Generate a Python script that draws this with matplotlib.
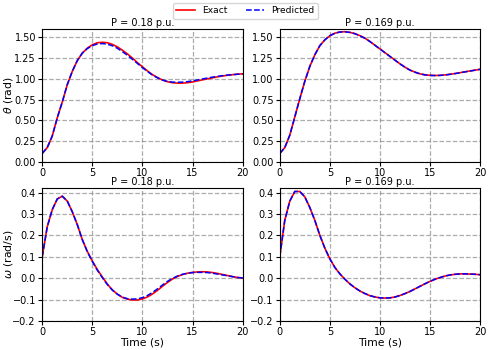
import numpy as np
import matplotlib
matplotlib.use('Agg')
from matplotlib import pyplot as plt

# time axis (s)
t = np.arange(0, 20.5, 0.5)

# rotor angle, P = 0.18 p.u.
theta_exact_a = [0.10, 0.17, 0.31, 0.53, 0.72, 0.93, 1.09, 1.22, 1.31, 1.37, 1.41,
                 1.435, 1.44, 1.435, 1.415, 1.385, 1.345, 1.30, 1.25, 1.195, 1.145,
                 1.095, 1.05, 1.015, 0.985, 0.965, 0.953, 0.948, 0.948, 0.953, 0.962,
                 0.975, 0.988, 1.00, 1.012, 1.024, 1.034, 1.043, 1.05, 1.056, 1.06]
theta_pred_a = [0.10, 0.17, 0.31, 0.53, 0.72, 0.93, 1.09, 1.22, 1.31, 1.365, 1.40,
                1.42, 1.425, 1.418, 1.398, 1.368, 1.328, 1.283, 1.235, 1.185, 1.135,
                1.088, 1.045, 1.012, 0.985, 0.968, 0.96, 0.958, 0.96, 0.966, 0.975,
                0.986, 0.998, 1.01, 1.02, 1.03, 1.038, 1.045, 1.05, 1.055, 1.058]

# rotor angle, P = 0.169 p.u.
theta_exact_b = [0.10, 0.17, 0.32, 0.54, 0.76, 0.97, 1.15, 1.29, 1.40, 1.47, 1.52,
                 1.55, 1.565, 1.568, 1.56, 1.545, 1.52, 1.49, 1.45, 1.405, 1.36,
                 1.315, 1.27, 1.225, 1.18, 1.14, 1.105, 1.08, 1.06, 1.048, 1.042,
                 1.04, 1.042, 1.047, 1.055, 1.064, 1.074, 1.085, 1.095, 1.105, 1.115]
theta_pred_b = [0.10, 0.17, 0.32, 0.54, 0.76, 0.97, 1.15, 1.29, 1.40, 1.47, 1.52,
                1.55, 1.564, 1.567, 1.559, 1.544, 1.519, 1.489, 1.449, 1.404, 1.359,
                1.314, 1.269, 1.224, 1.179, 1.139, 1.104, 1.079, 1.059, 1.047, 1.041,
                1.039, 1.041, 1.046, 1.054, 1.063, 1.073, 1.084, 1.094, 1.104, 1.114]

# speed deviation, P = 0.18 p.u.
omega_exact_a = [0.10, 0.24, 0.32, 0.37, 0.383, 0.36, 0.31, 0.25, 0.18, 0.125, 0.08,
                 0.04, 0.005, -0.028, -0.055, -0.075, -0.09, -0.098, -0.102, -0.102, -0.097,
                 -0.088, -0.074, -0.057, -0.038, -0.02, -0.004, 0.008, 0.017, 0.023, 0.027,
                 0.029, 0.03, 0.029, 0.026, 0.022, 0.017, 0.012, 0.007, 0.003, 0.0]
omega_pred_a = [0.10, 0.24, 0.32, 0.37, 0.383, 0.36, 0.31, 0.25, 0.18, 0.123, 0.078,
                0.037, 0.002, -0.03, -0.056, -0.075, -0.089, -0.096, -0.098, -0.097, -0.091,
                -0.081, -0.067, -0.05, -0.032, -0.015, -0.001, 0.01, 0.018, 0.023, 0.026,
                0.027, 0.027, 0.026, 0.023, 0.019, 0.015, 0.011, 0.007, 0.003, 0.001]

# speed deviation, P = 0.169 p.u.
omega_exact_b = [0.10, 0.27, 0.36, 0.405, 0.405, 0.38, 0.33, 0.27, 0.20, 0.14, 0.09,
                 0.05, 0.02, -0.005, -0.027, -0.045, -0.06, -0.072, -0.082, -0.088, -0.092,
                 -0.093, -0.092, -0.088, -0.081, -0.072, -0.062, -0.05, -0.038, -0.026, -0.015,
                 -0.005, 0.003, 0.01, 0.015, 0.018, 0.02, 0.02, 0.019, 0.018, 0.016]
omega_pred_b = [0.10, 0.27, 0.36, 0.405, 0.405, 0.38, 0.33, 0.27, 0.20, 0.14, 0.09,
                0.05, 0.02, -0.005, -0.027, -0.045, -0.06, -0.072, -0.082, -0.088, -0.092,
                -0.093, -0.092, -0.088, -0.081, -0.072, -0.062, -0.05, -0.038, -0.026, -0.015,
                -0.005, 0.003, 0.01, 0.015, 0.018, 0.02, 0.02, 0.019, 0.018, 0.016]

titles = ['P = 0.18 p.u.', 'P = 0.169 p.u.']

small = 7.0   # ticks, titles
leg = 6.6     # legend
big = 7.8     # axis labels

fig, axs = plt.subplots(2, 2, figsize=(4.91, 3.5), dpi=100)
fig.subplots_adjust(left=0.086, right=0.978, bottom=0.083, top=0.917,
                    wspace=0.185, hspace=0.2)

data = [[(theta_exact_a, theta_pred_a), (theta_exact_b, theta_pred_b)],
        [(omega_exact_a, omega_pred_a), (omega_exact_b, omega_pred_b)]]

for i in range(2):
    for j in range(2):
        ax = axs[i, j]
        exact, pred = data[i][j]
        ax.plot(t, exact, '-', color='red', lw=1.2, label='Exact')
        ax.plot(t, pred, '--', color='blue', lw=1.1, label='Predicted')
        ax.set_title(titles[j], fontsize=small, pad=2)
        ax.set_xlim(0, 20)
        ax.set_xticks([0, 5, 10, 15, 20])
        ax.grid(True, linestyle='--', color='gray', alpha=0.65, lw=0.9)
        if i == 0:
            ax.set_ylim(0, 1.6)
            ax.set_yticks([0, 0.25, 0.5, 0.75, 1.0, 1.25, 1.5])
            ax.set_yticklabels(['0.00', '0.25', '0.50', '0.75', '1.00', '1.25', '1.50'])
        else:
            ax.set_ylim(-0.2, 0.42)
            ax.set_yticks([-0.2, -0.1, 0.0, 0.1, 0.2, 0.3, 0.4])
            ax.set_xlabel('Time (s)', fontsize=big, labelpad=0)
        ax.tick_params(labelsize=small, pad=1.5, length=3)

axs[0, 0].set_ylabel(r'$\theta$ (rad)', fontsize=big)
axs[1, 0].set_ylabel(r'$\omega$ (rad/s)', fontsize=big)
axs[0, 0].yaxis.set_label_coords(-0.135, 0.5)
axs[1, 0].yaxis.set_label_coords(-0.135, 0.5)

handles, labels = axs[0, 0].get_legend_handles_labels()
fig.legend(handles, labels, loc='upper center', ncol=2, bbox_to_anchor=(0.5, 1.0),
           fontsize=leg, frameon=True, borderaxespad=0.3)

plt.savefig('out.png', dpi=100)
